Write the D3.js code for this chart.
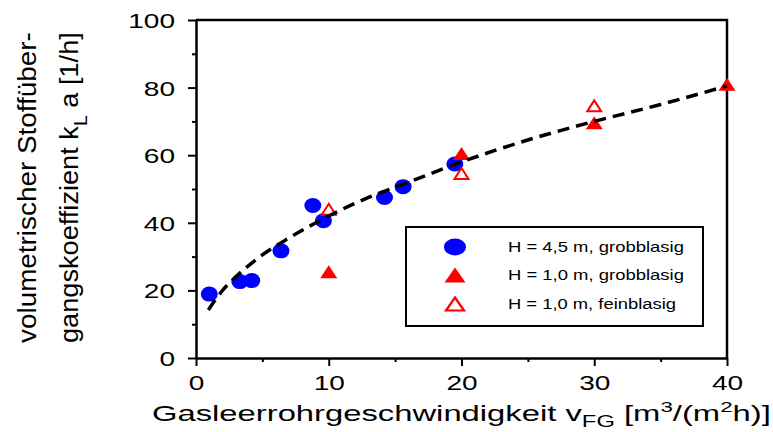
<!DOCTYPE html>
<html>
<head>
<meta charset="utf-8">
<script src="https://cdn.jsdelivr.net/npm/d3@7"></script>
<style>
  html, body { margin: 0; padding: 0; background: #fff; }
  svg { display: block; }
  text { font-family: "Liberation Sans", Arial, sans-serif; fill: #000; }
</style>
</head>
<body>
<svg id="chart" width="773" height="432"></svg>
<script>
// Gas velocity (x) and kLa (y) for each measurement series
const coarseTallX = [1.0, 3.3, 4.2, 6.4, 8.8, 9.6, 14.2, 15.6, 19.5];
const coarseTallY = [18.9, 22.6, 22.9, 31.7, 45.1, 40.6, 47.5, 50.7, 57.4];
const coarseShortX = [10, 20, 30, 40];
const coarseShortY = [25.5, 60.5, 69.6, 81];
const fineShortX = [10, 20, 30];
const fineShortY = [44, 54.6, 74.6];

// Trend line through all measurements
const fitX = [0.93, 2, 3, 5, 7, 10, 13, 16, 20, 25, 30, 35, 40];
const fitY = [14.2, 20, 24, 30.5, 35.5, 42, 47.5, 52, 58, 64.5, 70, 75, 80.5];

const xTicks = [0, 10, 20, 30, 40];
const xMinorTicks = [5, 15, 25, 35];
const yTicks = [0, 20, 40, 60, 80, 100];
const yMinorTicks = [10, 30, 50, 70, 90];

const legendLabels = ["H = 4,5 m, grobblasig", "H = 1,0 m, grobblasig", "H = 1,0 m, feinblasig"];

const svg = d3.select("#chart");
const x = d3.scaleLinear().domain([0, 40]).range([196, 727]);
const y = d3.scaleLinear().domain([0, 100]).range([358, 20]);

const BLUE = "#0000ff", RED = "#ff0000";

// stretch a text element horizontally so it covers a given width
function fitWidth(sel, target, anchorX) {
  const node = sel.node();
  const w = node.getBBox().width;
  const s = target / w;
  sel.attr("transform", `translate(${anchorX},0) scale(${s},1) translate(${-anchorX},0)`);
}

// frame (top and right borders)
svg.append("path")
  .attr("d", `M${x(0)},${y(100)}H${x(40)}V${y(0)}`)
  .attr("fill", "none").attr("stroke", "#000").attr("stroke-width", 2.5);

// axes
const xAxis = svg.append("g").attr("transform", `translate(0,${y(0)})`)
  .call(d3.axisBottom(x).tickValues(xTicks).tickSize(8).tickSizeOuter(0).tickFormat(d3.format("d")));
const xMinor = svg.append("g").attr("transform", `translate(0,${y(0)})`)
  .call(d3.axisBottom(x).tickValues(xMinorTicks).tickSize(4).tickSizeOuter(0).tickFormat(""));
const yAxis = svg.append("g").attr("transform", `translate(${x(0)},0)`)
  .call(d3.axisLeft(y).tickValues(yTicks).tickSize(8).tickSizeOuter(0).tickFormat(d3.format("d")));
const yMinor = svg.append("g").attr("transform", `translate(${x(0)},0)`)
  .call(d3.axisLeft(y).tickValues(yMinorTicks).tickSize(4).tickSizeOuter(0).tickFormat(""));

[xAxis, xMinor, yAxis, yMinor].forEach(g => {
  g.select(".domain").attr("stroke", "#000").attr("stroke-width", 2.5);
  g.selectAll(".tick line").attr("stroke", "#000").attr("stroke-width", 2);
});
xMinor.select(".domain").remove();
yMinor.select(".domain").remove();

const DIGIT_W = 15.6;
xAxis.selectAll(".tick text")
  .attr("font-size", 21).attr("y", 17).attr("dy", "0.72em")
  .style("font-family", '"Liberation Sans", Arial, sans-serif')
  .attr("textLength", d => String(d).length * DIGIT_W)
  .attr("lengthAdjust", "spacingAndGlyphs");
yAxis.selectAll(".tick text")
  .attr("font-size", 21).attr("x", -21).attr("dy", "0.36em")
  .style("font-family", '"Liberation Sans", Arial, sans-serif')
  .attr("textLength", d => String(d).length * DIGIT_W)
  .attr("lengthAdjust", "spacingAndGlyphs");

// markers
function triPath(w, h) {
  return `M0,${-h / 2}L${w / 2},${h / 2}L${-w / 2},${h / 2}Z`;
}
const plot = svg.append("g");
plot.selectAll("ellipse.tall")
  .data(d3.zip(coarseTallX, coarseTallY))
  .join("ellipse").attr("class", "tall")
  .attr("cx", d => x(d[0])).attr("cy", d => y(d[1]))
  .attr("rx", 8.5).attr("ry", 7.5).attr("fill", BLUE);
plot.selectAll("path.fine")
  .data(d3.zip(fineShortX, fineShortY))
  .join("path").attr("class", "fine")
  .attr("transform", d => `translate(${x(d[0])},${y(d[1])})`)
  .attr("d", triPath(14, 11))
  .attr("fill", "#fff").attr("stroke", RED).attr("stroke-width", 2);
plot.selectAll("path.coarse")
  .data(d3.zip(coarseShortX, coarseShortY))
  .join("path").attr("class", "coarse")
  .attr("transform", d => `translate(${x(d[0])},${y(d[1])})`)
  .attr("d", triPath(17, 13))
  .attr("fill", RED);

// dashed trend line
svg.append("path")
  .datum(d3.zip(fitX, fitY))
  .attr("d", d3.line().x(d => x(d[0])).y(d => y(d[1])).curve(d3.curveMonotoneX))
  .attr("fill", "none").attr("stroke", "#000").attr("stroke-width", 3.5)
  .attr("stroke-dasharray", "12,7");

// legend
const lg = svg.append("g");
lg.append("rect").attr("x", 406).attr("y", 227).attr("width", 297).attr("height", 99)
  .attr("fill", "#fff").attr("stroke", "#000").attr("stroke-width", 2);
const rowsY = [247, 275, 304];
lg.append("ellipse").attr("cx", 455).attr("cy", rowsY[0]).attr("rx", 11).attr("ry", 8.5).attr("fill", BLUE);
lg.append("path").attr("transform", `translate(455,${rowsY[1]})`).attr("d", triPath(21, 15)).attr("fill", RED);
lg.append("path").attr("transform", `translate(455,${rowsY[2]})`).attr("d", triPath(18, 13))
  .attr("fill", "#fff").attr("stroke", RED).attr("stroke-width", 2.2);
legendLabels.forEach((t, i) => {
  const tx = lg.append("text").attr("x", 508).attr("y", rowsY[i] + 5)
    .attr("font-size", 14).text(t);
  fitWidth(tx, i === 2 ? 168 : 176, 508);
});

// x axis title
const xt = svg.append("text").attr("x", 152).attr("y", 421).attr("font-size", 22);
xt.append("tspan").text("Gasleerrohrgeschwindigkeit v");
xt.append("tspan").attr("font-size", 16).attr("dy", 6).text("FG");
xt.append("tspan").attr("dy", -6).text(" [m");
xt.append("tspan").attr("font-size", 15).attr("dy", -9).text("3");
xt.append("tspan").attr("dy", 9).text("/(m");
xt.append("tspan").attr("font-size", 15).attr("dy", -9).text("2");
xt.append("tspan").attr("dy", 9).text("h)]");
fitWidth(xt, 619, 152);

// y axis title (two lines, reading upwards)
const yg1 = svg.append("g").attr("transform", "translate(36,343) rotate(-90)");
const yl1 = yg1.append("text").attr("x", 0).attr("y", 0).attr("font-size", 25)
  .text("volumetrischer Stoffüber-");
fitWidth(yl1, 311, 0);
const yg2 = svg.append("g").attr("transform", "translate(78,343) rotate(-90)");
const yl2 = yg2.append("text").attr("x", 0).attr("y", 0).attr("font-size", 25);
yl2.append("tspan").text("gangskoeffizient k");
yl2.append("tspan").attr("font-size", 18).attr("dy", 9).text("L");
yl2.append("tspan").attr("dy", -9).text(" a [1/h]");
fitWidth(yl2, 311, 0);
</script>
</body>
</html>
